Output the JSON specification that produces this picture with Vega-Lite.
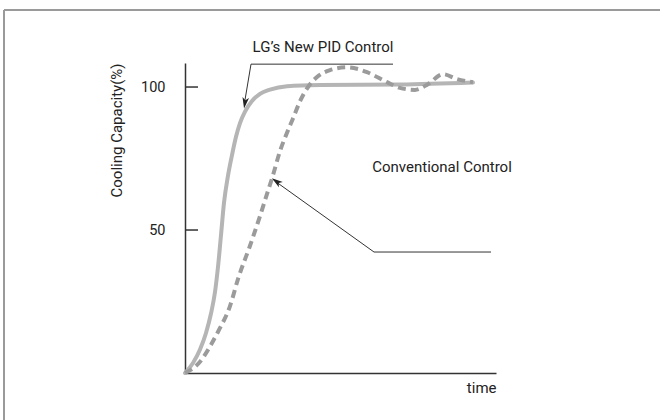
{
  "$schema": "https://vega.github.io/schema/vega-lite/v6.json",
  "width": 311,
  "height": 310,
  "autosize": "none",
  "padding": {"left": 185, "top": 63, "right": 164, "bottom": 47},
  "background": "#ffffff",
  "config": {
    "view": {"stroke": null},
    "font": "Roboto",
    "text": {"font": "Roboto"}
  },
  "datasets": {
    "curves": [
      {"series": "pid", "t": 0, "v": 0},
      {"series": "pid", "t": 8, "v": 3.5},
      {"series": "pid", "t": 15, "v": 8.2},
      {"series": "pid", "t": 21, "v": 14},
      {"series": "pid", "t": 26, "v": 20.8},
      {"series": "pid", "t": 30, "v": 28.3},
      {"series": "pid", "t": 33, "v": 37.1},
      {"series": "pid", "t": 36, "v": 48.2},
      {"series": "pid", "t": 39, "v": 59.5},
      {"series": "pid", "t": 43, "v": 69.0},
      {"series": "pid", "t": 47, "v": 76.2},
      {"series": "pid", "t": 51, "v": 82.6},
      {"series": "pid", "t": 55, "v": 87.4},
      {"series": "pid", "t": 60, "v": 91.4},
      {"series": "pid", "t": 67, "v": 95.1},
      {"series": "pid", "t": 75, "v": 97.6},
      {"series": "pid", "t": 85, "v": 99.1},
      {"series": "pid", "t": 102, "v": 100.3},
      {"series": "pid", "t": 135, "v": 100.7},
      {"series": "pid", "t": 215, "v": 100.9},
      {"series": "pid", "t": 288, "v": 101.6},
      {"series": "conv", "t": 0, "v": 0},
      {"series": "conv", "t": 15, "v": 3.9},
      {"series": "conv", "t": 26.7, "v": 10.3},
      {"series": "conv", "t": 33.3, "v": 14.6},
      {"series": "conv", "t": 45, "v": 23.4},
      {"series": "conv", "t": 53.3, "v": 33.2},
      {"series": "conv", "t": 65, "v": 44.5},
      {"series": "conv", "t": 75, "v": 54.9},
      {"series": "conv", "t": 80, "v": 60.4},
      {"series": "conv", "t": 88, "v": 69.2},
      {"series": "conv", "t": 95, "v": 77.6},
      {"series": "conv", "t": 102, "v": 84.0},
      {"series": "conv", "t": 108, "v": 89.0},
      {"series": "conv", "t": 115, "v": 95.0},
      {"series": "conv", "t": 123, "v": 100.0},
      {"series": "conv", "t": 132, "v": 103.5},
      {"series": "conv", "t": 145, "v": 105.9},
      {"series": "conv", "t": 162, "v": 106.9},
      {"series": "conv", "t": 173, "v": 106.3},
      {"series": "conv", "t": 182, "v": 105.2},
      {"series": "conv", "t": 202, "v": 101.7},
      {"series": "conv", "t": 215, "v": 99.7},
      {"series": "conv", "t": 230, "v": 99.0},
      {"series": "conv", "t": 243, "v": 101.0},
      {"series": "conv", "t": 258, "v": 104.5},
      {"series": "conv", "t": 272, "v": 102.8},
      {"series": "conv", "t": 288, "v": 101.7}
    ],
    "leaders": [
      {"leader": "lg", "step": 1, "t": 208, "v": 108.0},
      {"leader": "lg", "step": 2, "t": 66, "v": 108.0},
      {"leader": "lg", "step": 3, "t": 60, "v": 95.5},
      {"leader": "conv", "step": 1, "t": 306, "v": 42.3},
      {"leader": "conv", "step": 2, "t": 189, "v": 42.3},
      {"leader": "conv", "step": 3, "t": 92, "v": 66.6}
    ],
    "arrows": [
      {"leader": "lg", "t": 59.9, "v": 94.4},
      {"leader": "conv", "t": 91.4, "v": 67.0}
    ],
    "ticks": [
      {"v": 50, "t": 0, "t2": 13},
      {"v": 100, "t": 0, "t2": 13}
    ],
    "frame": [
      {"t": -181, "v": 126.9, "t2": 475, "v2": 126.9},
      {"t": -181, "v": 126.9, "t2": -181, "v2": -16.4}
    ],
    "labels": [
      {"label": "LG’s New PID Control", "t": 138, "v": 114.0},
      {"label": "Conventional Control", "t": 257, "v": 72.0}
    ]
  },
  "encoding": {
    "x": {
      "field": "t",
      "type": "quantitative",
      "scale": {"domain": [0, 311], "nice": false, "zero": false},
      "axis": {
        "title": "time",
        "titleAnchor": "end",
        "titleFontSize": 15,
        "titleFontWeight": "normal",
        "titleColor": "#222222",
        "titleFont": "Roboto",
        "titlePadding": 7,
        "labels": false,
        "ticks": false,
        "grid": false,
        "domainColor": "#333333",
        "domainWidth": 1.5
      }
    },
    "y": {
      "field": "v",
      "type": "quantitative",
      "scale": {"domain": [0, 108.4], "nice": false, "zero": false},
      "axis": {
        "title": "Cooling Capacity(%)",
        "titleAnchor": "end",
        "titleFontSize": 15,
        "titleFontWeight": "normal",
        "titleColor": "#222222",
        "titleFont": "Roboto",
        "titlePadding": 16,
        "values": [50, 100],
        "labelFontSize": 14.5,
        "labelColor": "#222222",
        "labelFont": "Roboto",
        "labelPadding": 20,
        "ticks": false,
        "grid": false,
        "domainColor": "#333333",
        "domainWidth": 1.5
      }
    }
  },
  "layer": [
    {
      "data": {"name": "frame"},
      "mark": {"type": "rule", "color": "#9a9a9a", "strokeWidth": 2},
      "encoding": {
        "x2": {"field": "t2"},
        "y2": {"field": "v2"}
      }
    },
    {
      "data": {"name": "ticks"},
      "mark": {"type": "rule", "color": "#333333", "strokeWidth": 1.5},
      "encoding": {
        "x2": {"field": "t2"}
      }
    },
    {
      "data": {"name": "curves"},
      "transform": [{"filter": "datum.series === 'pid'"}],
      "mark": {"type": "line", "color": "#b5b5b5", "strokeWidth": 4, "interpolate": "monotone", "strokeCap": "round"},
      "encoding": {}
    },
    {
      "data": {"name": "curves"},
      "transform": [{"filter": "datum.series === 'conv'"}],
      "mark": {"type": "line", "color": "#9b9b9b", "strokeWidth": 4, "interpolate": "monotone", "strokeDash": [8, 5]},
      "encoding": {}
    },
    {
      "data": {"name": "leaders"},
      "mark": {"type": "line", "color": "#333333", "strokeWidth": 1},
      "encoding": {
        "detail": {"field": "leader"},
        "order": {"field": "step"}
      }
    },
    {
      "data": {"name": "arrows"},
      "transform": [{"filter": "datum.leader === 'lg'"}],
      "mark": {"type": "point", "shape": "M0,-1L0.6,1L0,0.5L-0.6,1Z", "size": 121, "filled": true, "color": "#222222", "opacity": 1, "angle": 189},
      "encoding": {}
    },
    {
      "data": {"name": "arrows"},
      "transform": [{"filter": "datum.leader === 'conv'"}],
      "mark": {"type": "point", "shape": "M0,-1L0.6,1L0,0.5L-0.6,1Z", "size": 121, "filled": true, "color": "#222222", "opacity": 1, "angle": 306},
      "encoding": {}
    },
    {
      "data": {"name": "labels"},
      "mark": {"type": "text", "fontSize": 15, "color": "#222222", "font": "Roboto", "align": "center", "baseline": "middle"},
      "encoding": {
        "text": {"field": "label"}
      }
    }
  ]
}
